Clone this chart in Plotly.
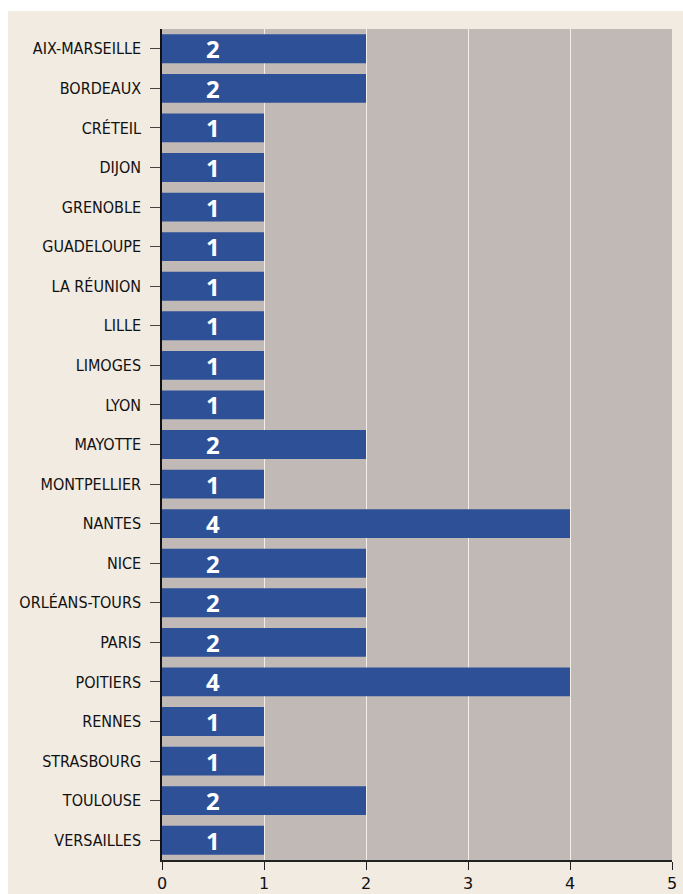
import plotly.graph_objects as go

categories = ["AIX-MARSEILLE", "BORDEAUX", "CRÉTEIL", "DIJON", "GRENOBLE", "GUADELOUPE",
              "LA RÉUNION", "LILLE", "LIMOGES", "LYON", "MAYOTTE", "MONTPELLIER", "NANTES",
              "NICE", "ORLÉANS-TOURS", "PARIS", "POITIERS", "RENNES", "STRASBOURG",
              "TOULOUSE", "VERSAILLES"]
values = [2, 2, 1, 1, 1, 1, 1, 1, 1, 1, 2, 1, 4, 2, 2, 2, 4, 1, 1, 2, 1]
x_ticks = [0, 1, 2, 3, 4, 5]
label_x = 0.5

BEIGE = "#f2ebe2"
GREY = "#c1b9b6"
BLUE = "#2e5096"

fig = go.Figure()
fig.add_trace(go.Bar(
    x=values, y=categories, orientation="h",
    marker=dict(color=BLUE, line=dict(width=0)),
    hoverinfo="skip",
))

for c, v in zip(categories, values):
    fig.add_annotation(x=label_x, y=c, xref="x", yref="y", text=str(v),
                       showarrow=False,
                       font=dict(family="Open Sans", size=24, color="white", weight="bold"))

# white strips at top and left of the picture (outside the plot area)
fig.add_shape(type="rect", xref="paper", yref="paper", x0=-0.4, x1=1.1,
              y0=(860 - 11) / 831, y1=1.1, fillcolor="white", line=dict(width=0), layer="above")
fig.add_shape(type="rect", xref="paper", yref="paper", x0=-0.4, x1=(8 - 162) / 510,
              y0=-0.1, y1=1.1, fillcolor="white", line=dict(width=0), layer="above")

fig.update_layout(
    width=683, height=894,
    margin=dict(l=162, r=11, t=29, b=34, autoexpand=False),
    paper_bgcolor=BEIGE, plot_bgcolor=GREY,
    bargap=0.27, showlegend=False,
    xaxis=dict(range=[0, 5], tickvals=x_ticks, ticks="outside", ticklen=8, tickwidth=1.2,
               tickcolor="#222", showline=True, linecolor="#222", linewidth=1.5,
               showgrid=True, gridcolor="#f3eee8", gridwidth=1, zeroline=False,
               automargin=False, ticklabelstandoff=0,
               tickfont=dict(family="DejaVu Sans", size=16, color="#111"), fixedrange=True),
    yaxis=dict(autorange="reversed", ticks="outside", ticklen=10, tickwidth=1.2,
               tickcolor="#444", showline=True, linecolor="#111", linewidth=1.5,
               showgrid=False, ticklabelstandoff=6, fixedrange=True, automargin=False,
               tickfont=dict(family="Liberation Sans Narrow, DejaVu Sans Condensed, sans-serif",
                             size=16, color="#111")),
)

page_fix = (
    "var s='margin:0;padding:0;overflow:hidden;width:683px;height:894px;';"
    "document.documentElement.style.cssText=s;document.body.style.cssText=s;"
)
fig.write_html("out.html", config={"displayModeBar": False}, post_script=page_fix)
